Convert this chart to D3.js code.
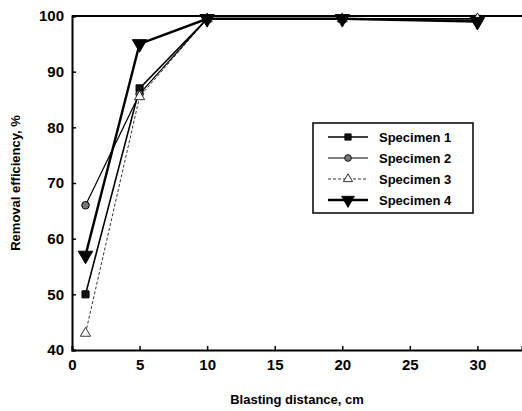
<!DOCTYPE html>
<html><head><meta charset="utf-8">
<script src="https://cdn.jsdelivr.net/npm/d3@7"></script>
<style>body{margin:0;background:#fff}svg{display:block}text{font-family:"Liberation Sans",Arial,sans-serif}</style>
</head><body><svg id="c" width="522" height="411"></svg>
<script>
const distances = [1, 5, 10, 20, 30];
const specimen1 = [50, 87, 99.5, 99.5, 99.5];
const specimen2 = [66, 86, 99.5, 99.5, 99.5];
const specimen3 = [43, 85.5, 99.5, 99.5, 99.5];
const specimen4 = [57, 95, 99.5, 99.5, 99];
const seriesNames = ["Specimen 1", "Specimen 2", "Specimen 3", "Specimen 4"];
const xTicks = [0, 5, 10, 15, 20, 25, 30];
const yTicks = [40, 50, 60, 70, 80, 90, 100];

const series = [specimen1, specimen2, specimen3, specimen4].map((v, i) => ({name: seriesNames[i], values: v}));
const styles = [
  {w: 1.6, dash: null, sym: d3.symbolSquare, size: 50, fill: "#111"},
  {w: 1.2, dash: null, sym: d3.symbolCircle, size: 45, fill: "#777"},
  {w: 0.8, dash: "3,2", sym: d3.symbolTriangle, size: 45, fill: "none"},
  {w: 2.4, dash: null, sym: d3.symbolTriangle, size: 90, fill: "#000", rot: 180}
];

const svg = d3.select("#c");
const m = {l: 72, t: 16, r: 0, b: 61};
const W = 522, H = 411;
const x = d3.scaleLinear().domain([0, 33.3]).range([m.l, W - m.r]);
const y = d3.scaleLinear().domain([40, 100]).range([H - m.b, m.t]);

// axes
const xAxis = d3.axisBottom(x).tickValues(xTicks).tickSize(-4).tickPadding(9);
const yAxis = d3.axisLeft(y).tickValues(yTicks).tickSize(-4).tickPadding(8);
const gx = svg.append("g").attr("transform", `translate(0,${H - m.b})`).call(xAxis);
const gy = svg.append("g").attr("transform", `translate(${m.l},0)`).call(yAxis);
[gx, gy].forEach(g => {
  g.select(".domain").attr("stroke", "#000").attr("stroke-width", 2);
  g.selectAll(".tick line").attr("stroke", "#000").attr("stroke-width", 1.5);
  g.selectAll(".tick text").attr("fill", "#000").attr("font-size", 15).attr("font-weight", "bold");
});
// top frame
svg.append("line").attr("x1", m.l).attr("x2", W).attr("y1", m.t).attr("y2", m.t).attr("stroke", "#000").attr("stroke-width", 2);

svg.append("text").attr("x", (m.l + W) / 2).attr("y", 404).attr("text-anchor", "middle")
  .attr("font-size", 13).attr("font-weight", "bold").text("Blasting distance, cm");
svg.append("text").attr("transform", `translate(20,${(m.t + H - m.b) / 2}) rotate(-90)`).attr("text-anchor", "middle")
  .attr("font-size", 13).attr("font-weight", "bold").text("Removal efficiency, %");

const line = d3.line().x((d, i) => x(distances[i])).y(d => y(d));
series.forEach((s, i) => {
  const st = styles[i];
  svg.append("path").attr("d", line(s.values)).attr("fill", "none").attr("stroke", "#000")
    .attr("stroke-width", st.w).attr("stroke-dasharray", st.dash);
  svg.selectAll(null).data(s.values).enter().append("path")
    .attr("d", d3.symbol().type(st.sym).size(st.size))
    .attr("transform", (d, j) => `translate(${x(distances[j])},${y(d)})${st.rot ? " rotate(180)" : ""}`)
    .attr("fill", st.fill === "none" ? "#fff" : st.fill).attr("stroke", "#000").attr("stroke-width", st.fill === "none" ? 0.8 : 1);
});

// legend
const lg = svg.append("g").attr("transform", "translate(313,123)");
lg.append("rect").attr("width", 160).attr("height", 90).attr("fill", "#fff").attr("stroke", "#000").attr("stroke-width", 1.5);
series.forEach((s, i) => {
  const st = styles[i];
  const yy = 14 + i * 21;
  lg.append("line").attr("x1", 15).attr("x2", 55).attr("y1", yy).attr("y2", yy).attr("stroke", "#000")
    .attr("stroke-width", st.w).attr("stroke-dasharray", st.dash);
  lg.append("path").attr("d", d3.symbol().type(st.sym).size(st.size * 0.8)())
    .attr("transform", `translate(35,${yy})${st.rot ? " rotate(180)" : ""}`)
    .attr("fill", st.fill === "none" ? "#fff" : st.fill).attr("stroke", "#000").attr("stroke-width", 0.8);
  lg.append("text").attr("x", 66).attr("y", yy + 5).attr("font-size", 13).attr("font-weight", "bold").text(s.name);
});
</script></body></html>
